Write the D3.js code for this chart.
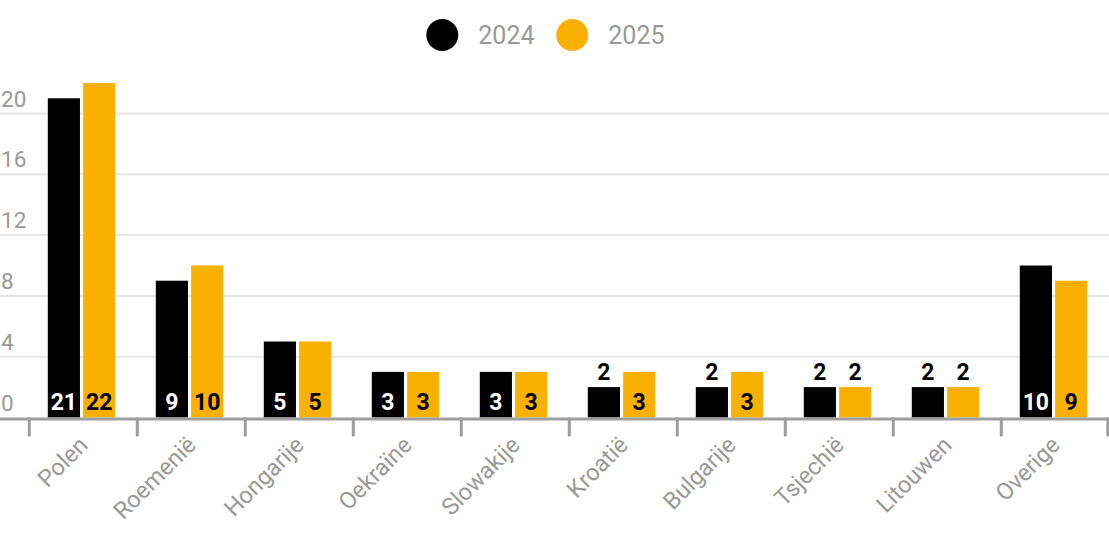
<!DOCTYPE html>
<html>
<head>
<meta charset="utf-8">
<script src="https://cdn.jsdelivr.net/npm/d3@7"></script>
<style>
  body { margin: 0; background: #fff; }
  text { font-family: Roboto, "Noto Sans", sans-serif; }
</style>
</head>
<body>
<div id="chart"></div>
<script>
// data
const countries = ["Polen", "Roemenië", "Hongarije", "Oekraïne", "Slowakije", "Kroatië", "Bulgarije", "Tsjechië", "Litouwen", "Overige"];
const years = ["2024", "2025"];
const values2024 = [21, 9, 5, 3, 3, 2, 2, 2, 2, 10];
const values2025 = [22, 10, 5, 3, 3, 3, 3, 2, 2, 9];
const yTicks = [0, 4, 8, 12, 16, 20];

const colors = { "2024": "#000000", "2025": "#f9b000" };
const width = 1109, height = 556;

const rows = countries.map((c, i) => ({ country: c, vals: [
  { year: "2024", value: values2024[i] },
  { year: "2025", value: values2025[i] }
]}));

const svg = d3.select("#chart").append("svg")
    .attr("width", width)
    .attr("height", height);

// scales
const x0 = d3.scaleBand()
  .domain(countries)
  .range([29.3, 1109.3]);

const x1 = d3.scaleBand()
  .domain(years)
  .range([18.5, 86])
  .paddingInner(0.09);

const y = d3.scaleLinear()
  .domain([0, 20])
  .range([417.5, 113.5]);

// grid + y labels
svg.append("g").selectAll("line")
  .data(yTicks.filter(d => d > 0))
  .join("line")
    .attr("x1", 0).attr("x2", width)
    .attr("y1", d => y(d)).attr("y2", d => y(d))
    .attr("stroke", "#e6e6e6")
    .attr("stroke-width", 2);

svg.append("g").selectAll("text")
  .data(yTicks)
  .join("text")
    .attr("x", 1)
    .attr("y", d => y(d) - 7)
    .attr("fill", "#999")
    .style("font-size", "22.5px")
    .text(d => d);

// bars
const groups = svg.append("g").selectAll("g")
  .data(rows)
  .join("g")
    .attr("transform", d => `translate(${x0(d.country)},0)`);

groups.selectAll("rect")
  .data(d => d.vals)
  .join("rect")
    .attr("x", d => x1(d.year))
    .attr("width", x1.bandwidth())
    .attr("y", d => y(d.value))
    .attr("height", d => y(0) - y(d.value))
    .attr("fill", d => colors[d.year]);

// value labels: inside bottom if the bar is tall enough, else on top
groups.selectAll("text")
  .data(d => d.vals)
  .join("text")
    .attr("x", d => x1(d.year) + x1.bandwidth() / 2)
    .attr("y", d => (y(0) - y(d.value)) > 36 ? y(0) - 8 : y(d.value) - 7)
    .attr("text-anchor", "middle")
    .attr("fill", d => ((y(0) - y(d.value)) > 36 && d.year === "2024") ? "#fff" : "#000")
    .style("font-size", "23px")
    .style("font-weight", "bold")
    .text(d => d.value);

// x axis
svg.append("line")
  .attr("x1", 0).attr("x2", width)
  .attr("y1", y(0) + 1.5).attr("y2", y(0) + 1.5)
  .attr("stroke", "#9e9e9e")
  .attr("stroke-width", 3);

const tickXs = countries.map(c => x0(c)).concat([x0.range()[1] - 1.5]);
svg.append("g").selectAll("line")
  .data(tickXs)
  .join("line")
    .attr("x1", d => d).attr("x2", d => d)
    .attr("y1", y(0)).attr("y2", y(0) + 19)
    .attr("stroke", "#9e9e9e")
    .attr("stroke-width", 3);

svg.append("g").selectAll("text")
  .data(countries)
  .join("text")
    .attr("transform", d => `translate(${x0(d) + x0.bandwidth() / 2 + 6},${y(0) + 29}) rotate(-45)`)
    .attr("text-anchor", "end")
    .attr("fill", "#999")
    .style("font-size", "23.5px")
    .text(d => d);

// legend
const legendX = [442.3, 572.3];
const legend = svg.append("g").selectAll("g")
  .data(years)
  .join("g")
    .attr("transform", (d, i) => `translate(${legendX[i]},35)`);

legend.append("circle")
  .attr("r", 16)
  .attr("fill", d => colors[d]);

legend.append("text")
  .attr("x", 36)
  .attr("y", 9)
  .attr("fill", "#999")
  .style("font-size", "25px")
  .text(d => d);
</script>
</body>
</html>
